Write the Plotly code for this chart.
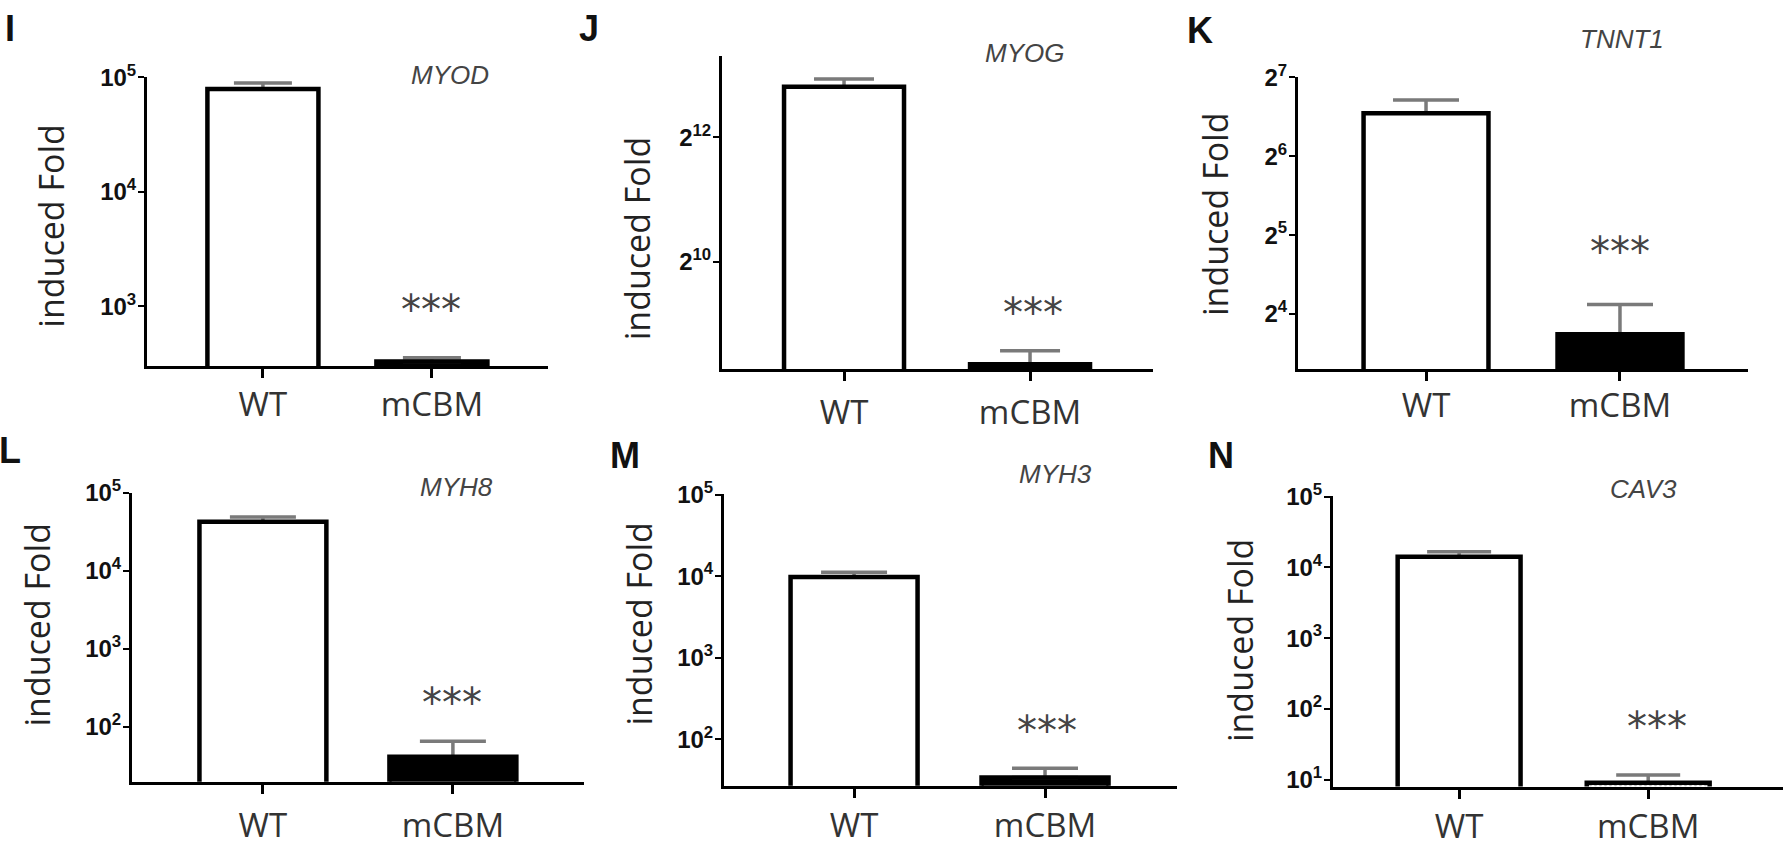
import plotly.graph_objects as go

W, H = 1783, 848

categories = ["WT", "mCBM"]
panel_letters = ["I", "J", "K", "L", "M", "N"]
genes = ["MYOD", "MYOG", "TNNT1", "MYH8", "MYH3", "CAV3"]

# mean induced fold and upper SD for WT / mCBM
myod_mean = [79000, 330]
myod_err = [10000, 26]
myog_mean = [7190, 325]
myog_err = [650, 53]
tnnt1_mean = [93.3, 13.4]
tnnt1_err = [11.7, 4.0]
myh8_mean = [42400, 41]
myh8_err = [6400, 24]
myh3_mean = [9770, 34]
myh3_err = [1390, 10]
cav3_mean = [14150, 9.1]
cav3_err = [2450, 2.6]

# tick values / labels
log10_ticks_I = [1e3, 1e4, 1e5]
log2_ticks_J = [1024, 4096]
log2_ticks_K = [16, 32, 64, 128]
log10_ticks_L = [1e2, 1e3, 1e4, 1e5]
log10_ticks_M = [1e2, 1e3, 1e4, 1e5]
log10_ticks_N = [1e1, 1e2, 1e3, 1e4, 1e5]
ticktext_I = ["10<sup>3</sup>", "10<sup>4</sup>", "10<sup>5</sup>"]
ticktext_J = ["2<sup>10</sup>", "2<sup>12</sup>"]
ticktext_K = ["2<sup>4</sup>", "2<sup>5</sup>", "2<sup>6</sup>", "2<sup>7</sup>"]
ticktext_L = ["10<sup>2</sup>", "10<sup>3</sup>", "10<sup>4</sup>", "10<sup>5</sup>"]
ticktext_M = ["10<sup>2</sup>", "10<sup>3</sup>", "10<sup>4</sup>", "10<sup>5</sup>"]
ticktext_N = ["10<sup>1</sup>", "10<sup>2</sup>", "10<sup>3</sup>", "10<sup>4</sup>", "10<sup>5</sup>"]
significance = "***"

means = [myod_mean, myog_mean, tnnt1_mean, myh8_mean, myh3_mean, cav3_mean]
errs = [myod_err, myog_err, tnnt1_err, myh8_err, myh3_err, cav3_err]
tickvals = [log10_ticks_I, log2_ticks_J, log2_ticks_K, log10_ticks_L, log10_ticks_M, log10_ticks_N]
ticktexts = [ticktext_I, ticktext_J, ticktext_K, ticktext_L, ticktext_M, ticktext_N]

# ---- layout (pixel geometry) ----
# plot box: left, right, top, bottom (px); y range in log10 units
boxes = [
    (147, 548, 62, 360, [2.475, 5.001]),
    (722, 1153, 40, 363, [2.488, 4.007]),
    (1298, 1748, 62, 363, [0.993, 2.108]),
    (132, 584, 490, 788, [1.292, 5.001]),
    (724, 1177, 492, 792, [1.43, 5.001]),
    (1333, 1790, 494, 793, [0.904, 5.001]),
]
xranges = [
    [-0.686, 1.687], [-0.656, 1.661], [-0.660, 1.660],
    [-0.689, 1.690], [-0.681, 1.691], [-0.667, 1.713],
]
bar_widths = [0.657, 0.645, 0.644, 0.668, 0.665, 0.65]
cap_half = [29, 30, 33, 33, 33, 32]
xlabel_standoff = [-2, 3, -4, 4, 0, 0]
ytitle_pos = [(51, 215), (637, 228), (1215, 203), (37, 626), (639, 625), (1240, 642)]
gene_pos = [(450, 60), (1024, 37), (1622, 23), (457, 484), (1055, 471), (1643, 486)]
star_pos = [(431, 302), (1033, 305), (1620, 242), (452, 707), (1047, 736), (1657, 732)]
letter_pos = [(10, 12), (589, 12), (1200, 14), (10, 447), (625, 452), (1221, 452)]


def px(x):
    return x / W


def py(y):
    return 1 - y / H


fig = go.Figure()
layout = dict(
    width=W, height=H,
    margin=dict(l=0, r=0, t=0, b=0),
    paper_bgcolor="white", plot_bgcolor="white",
    showlegend=False,
    barmode="overlay",
)
annotations = []

for i in range(6):
    l, r, t, b, yr = boxes[i]
    xa = "x" if i == 0 else f"x{i+1}"
    ya = "y" if i == 0 else f"y{i+1}"
    xkey = "xaxis" if i == 0 else f"xaxis{i+1}"
    ykey = "yaxis" if i == 0 else f"yaxis{i+1}"
    m = means[i]
    e = errs[i]
    if i == 5:
        fills = ["white", "white"]
        pshape = ["", "."]
    else:
        fills = ["white", "black"]
        pshape = ["", ""]
    # bars with upper error bars
    fig.add_trace(go.Bar(
        x=categories, y=m, xaxis=xa, yaxis=ya,
        width=bar_widths[i],
        marker=dict(color=fills, line=dict(color="black", width=0),
                    pattern=dict(shape=pshape, fgcolor="#777777", size=5, solidity=0.5)),
        error_y=dict(type="data", array=e, arrayminus=[0, 0], symmetric=False,
                     color="#7a7a7a", thickness=3.5, width=cap_half[i]),
    ))
    # black outlines drawn on top
    fig.add_trace(go.Bar(
        x=categories, y=m, xaxis=xa, yaxis=ya,
        width=bar_widths[i],
        marker=dict(color="rgba(0,0,0,0)", line=dict(color="black", width=4.5)),
    ))
    layout[xkey] = dict(
        domain=[px(l), min(px(r), 1.0)], anchor=ya,
        type="category", categoryorder="array", categoryarray=categories,
        range=xranges[i],
        showline=True, linecolor="black", linewidth=3,
        ticks="outside", ticklen=9, tickwidth=3, tickcolor="black",
        ticklabelstandoff=xlabel_standoff[i],
        tickfont=dict(family="Open Sans", size=33, color="#333333"),
        showgrid=False, zeroline=False, fixedrange=True,
    )
    layout[ykey] = dict(
        domain=[py(b), py(t)], anchor=xa,
        type="log", range=yr,
        tickvals=tickvals[i], ticktext=[f"<b>{s}</b>" for s in ticktexts[i]],
        showline=True, linecolor="black", linewidth=3,
        ticks="outside", ticklen=6, tickwidth=2, tickcolor="black",
        ticklabelstandoff=-3,
        tickfont=dict(family="Liberation Sans", size=24, color="#111111"),
        showgrid=False, zeroline=False, fixedrange=True,
    )
    tx, ty = ytitle_pos[i]
    annotations.append(dict(
        text="induced Fold", x=px(tx), y=py(ty), xref="paper", yref="paper",
        textangle=-90, showarrow=False, xanchor="center", yanchor="middle",
        font=dict(family="Open Sans", size=34, color="#222222"),
    ))
    gx, gy = gene_pos[i]
    annotations.append(dict(
        text=f"<i>{genes[i]}</i>", x=px(gx), y=py(gy), xref="paper", yref="paper",
        showarrow=False, xanchor="center", yanchor="middle",
        font=dict(family="Liberation Sans", size=26, color="#444444"),
    ))
    sx, sy = star_pos[i]
    annotations.append(dict(
        text=significance, x=px(sx), y=py(sy), xref="paper", yref="paper",
        showarrow=False, xanchor="center", yanchor="middle",
        font=dict(family="DejaVu Sans", size=40, color="#444444"),
    ))
    lx, ly = letter_pos[i]
    annotations.append(dict(
        text=f"<b>{panel_letters[i]}</b>", x=px(lx), y=py(ly), xref="paper", yref="paper",
        showarrow=False, xanchor="center", yanchor="middle",
        font=dict(family="Liberation Sans", size=36, color="#111111"),
    ))

layout["annotations"] = annotations
fig.update_layout(**layout)
fig.write_html(
    "out.html",
    config={"displayModeBar": False},
    post_script="document.body.style.margin='0';document.body.style.overflow='hidden';",
)
